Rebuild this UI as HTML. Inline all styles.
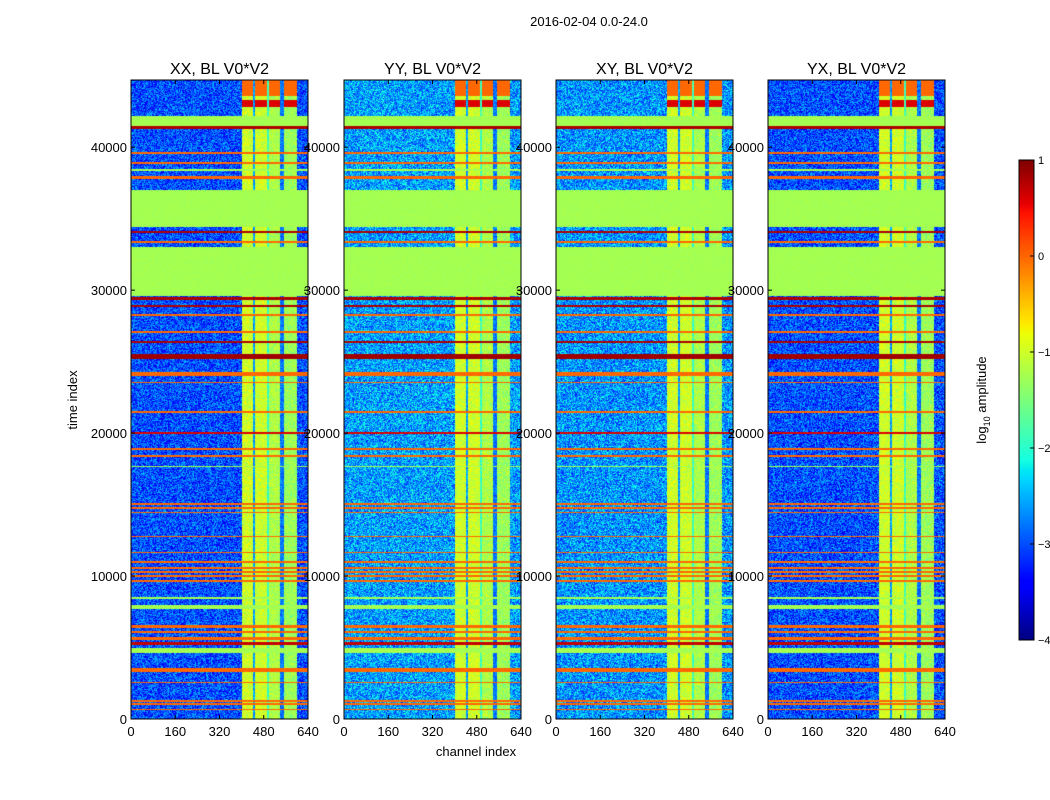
<!DOCTYPE html>
<html><head><meta charset="utf-8"><style>
body{margin:0;background:#fff;width:1050px;height:800px;overflow:hidden;font-family:"Liberation Sans",sans-serif}
#wrap{position:relative;width:1050px;height:800px}
canvas{position:absolute}
svg{position:absolute;left:0;top:0}
</style></head><body>
<div id="wrap">
<canvas id="c0"></canvas>
<canvas id="c1"></canvas>
<canvas id="c2"></canvas>
<canvas id="c3"></canvas>
<canvas id="cb"></canvas>
<svg id="ov" width="1050" height="800"></svg>
</div>
<script>
// ---- data ----
const panelTitles=["XX, BL V0*V2","YY, BL V0*V2","XY, BL V0*V2","YX, BL V0*V2"];
const panelBase=[-3.0,-2.6,-2.65,-3.0];
const xTicks=[0,160,320,480,640];
const yTicks=[0,10000,20000,30000,40000];
const cbTicks=[1,0,-1,-2,-3,-4];
const tMax=44700, chMax=640;
// full-row time bands (start, end, log amplitude)
const bandStart=[41500,41300,39500,38800,38300,37800,34400,34000,33300,29600,29300,28800,28200,27000,26300,25200,24000,23500,21400,19950,18800,18300,17600,15000,14700,14400,12700,11600,10900,10500,10200,9900,9600,8400,7700,6400,6000,5500,5200,4600,3300,2500,1200,1000,600];
const bandEnd  =[42200,41450,39650,38950,38450,37950,37000,34150,33450,33000,29500,28950,28350,27150,26450,25550,24300,23600,21550,20100,18950,18450,17700,15100,14800,14500,12800,11700,11050,10650,10350,10050,9750,8550,8000,6550,6150,5750,5400,5000,3600,2600,1350,1100,700];
const bandValue=[-1.25,0.8,0.0,0.0,-1.25,0.0,-1.25,0.8,0.0,-1.25,0.8,0.8,0.0,0.0,0.8,0.85,0.0,0.0,0.0,0.6,0.0,0.0,-1.25,0.0,0.0,0.0,0.0,0.0,0.0,0.0,0.0,0.0,0.0,-1.25,-1.25,0.0,0.0,0.0,0.7,-1.25,0.0,0.0,0.0,0.0,0.0];
// channel blocks (start, end, log amplitude)
const blockStart=[400,440,450,490,500,540,555];
const blockEnd  =[440,450,490,500,540,555,600];
const blockValue=[-1.0,-2.6,-1.0,-1.9,-1.2,-2.8,-1.3];
// hot region at top of channel blocks
const hotStart=[42800,43600], hotEnd=[43300,44700], hotValue=[0.6,0.0];
// ---- rendering ----
function lin(n,pts){for(let i=1;i<pts.length;i++){if(n<=pts[i][0]){const a=pts[i-1],b=pts[i];return a[1]+(b[1]-a[1])*(n-a[0])/(b[0]-a[0]);}}return pts[pts.length-1][1];}
function jet(n){n=Math.max(0,Math.min(1,n));
 const r=lin(n,[[0,0],[0.35,0],[0.66,1],[0.89,1],[1,0.5]]);
 const g=lin(n,[[0,0],[0.125,0],[0.375,1],[0.64,1],[0.91,0],[1,0]]);
 const b=lin(n,[[0,0.5],[0.11,1],[0.34,1],[0.65,0],[1,0]]);
 return [r*255|0,g*255|0,b*255|0];}
function col(v){return jet((v+4)/5);}
function hash(a,b){let h=(a*374761393+b*668265263)|0;h=(h^(h>>>13))*1274126177|0;return ((h^(h>>>16))>>>0)/4294967296;}
const X0=[131,344,556,768],PW=177,PY0=80,PH=639;
const xs=(p,c)=>X0[p]+c/chMax*PW;
const ys=t=>PY0+PH-t/tMax*PH;
for(let p=0;p<4;p++){
 const cv=document.getElementById('c'+p);cv.width=PW;cv.height=PH;
 cv.style.left=X0[p]+'px';cv.style.top=PY0+'px';
 const ctx=cv.getContext('2d');const im=ctx.createImageData(PW,PH);
 for(let y=0;y<PH;y++){
  const t=(PH-y-0.5)/PH*tMax;
  let band=null;for(let k=0;k<bandStart.length;k++)if(t>=bandStart[k]&&t<bandEnd[k]){band=bandValue[k];break;}
  let hot=null;for(let k=0;k<hotStart.length;k++)if(t>=hotStart[k]&&t<hotEnd[k])hot=hotValue[k];
  for(let x=0;x<PW;x++){
   const ch=(x+0.5)/PW*chMax;let v;
   if(band!==null){v=band+(hash(x+p*999,y)-0.5)*0.1;}
   else{
    v=panelBase[p]+(hash(x+p*777,y)-0.5)*1.2;
    for(let k=0;k<blockStart.length;k++)if(ch>=blockStart[k]&&ch<blockEnd[k]){v=blockValue[k]+(hash(x,y+p*31)-0.5)*0.6;if(hot!==null&&blockValue[k]>-1.5)v=hot;break;}
   }
   const c=col(v);const i=(y*PW+x)*4;im.data[i]=c[0];im.data[i+1]=c[1];im.data[i+2]=c[2];im.data[i+3]=255;
  }}
 ctx.putImageData(im,0,0);
}
// colorbar
const cb=document.getElementById('cb');cb.width=15;cb.height=480;cb.style.left='1019px';cb.style.top='160px';
{const ctx=cb.getContext('2d');for(let y=0;y<480;y++){const c=col(1-y/480*5);ctx.fillStyle=`rgb(${c})`;ctx.fillRect(0,y,15,1);}}
// overlay
const NS='http://www.w3.org/2000/svg',ov=document.getElementById('ov');
function el(tag,at,txt){const e=document.createElementNS(NS,tag);for(const k in at)e.setAttribute(k,at[k]);if(txt!==undefined)e.textContent=txt;ov.appendChild(e);return e;}
let e=el('text',{x:589,y:26,'font-size':13,'text-anchor':'middle'},'2016-02-04 0.0-24.0');

for(let p=0;p<4;p++){
 e=el('rect',{x:X0[p],y:PY0,width:PW,height:PH,fill:'none',stroke:'#000','stroke-width':1});
 
 e=el('text',{x:X0[p]+PW/2,y:74,'font-size':16,'text-anchor':'middle'},panelTitles[p]);
 
 for(const v of xTicks){const x=xs(p,v);
  el('line',{x1:x,x2:x,y1:PY0+PH,y2:PY0+PH-4,stroke:'#000'});el('line',{x1:x,x2:x,y1:PY0,y2:PY0+4,stroke:'#000'});
  e=el('text',{x:x,y:736,'font-size':13,'text-anchor':'middle'},v);
  }
 for(const v of yTicks){const y=ys(v);
  el('line',{x1:X0[p],x2:X0[p]+4,y1:y,y2:y,stroke:'#000'});el('line',{x1:X0[p]+PW,x2:X0[p]+PW-4,y1:y,y2:y,stroke:'#000'});
  e=el('text',{x:X0[p]-4,y:y+5,'font-size':13,'text-anchor':'end'},v);
  }
}
e=el('text',{x:476,y:756,'font-size':13,'text-anchor':'middle'},'channel index');

e=el('text',{x:77,y:400,'font-size':13,'text-anchor':'middle',transform:'rotate(-90 77 400)'},'time index');

e=el('rect',{x:1019,y:160,width:15,height:480,fill:'none',stroke:'#000'});

for(const v of cbTicks){const y=160+(1-v)/5*480;
 el('line',{x1:1030,x2:1034,y1:y,y2:y,stroke:'#000'});
 e=el('text',{x:1038,y:y+4,'font-size':11},v<0?'\u2212'+(-v):v);
 }
e=el('text',{x:986,y:400,'font-size':13,'text-anchor':'middle',transform:'rotate(-90 986 400)'});

e.innerHTML='log<tspan font-size="9" dy="4">10</tspan><tspan dy="-4"> amplitude</tspan>';
</script>
</body></html>
